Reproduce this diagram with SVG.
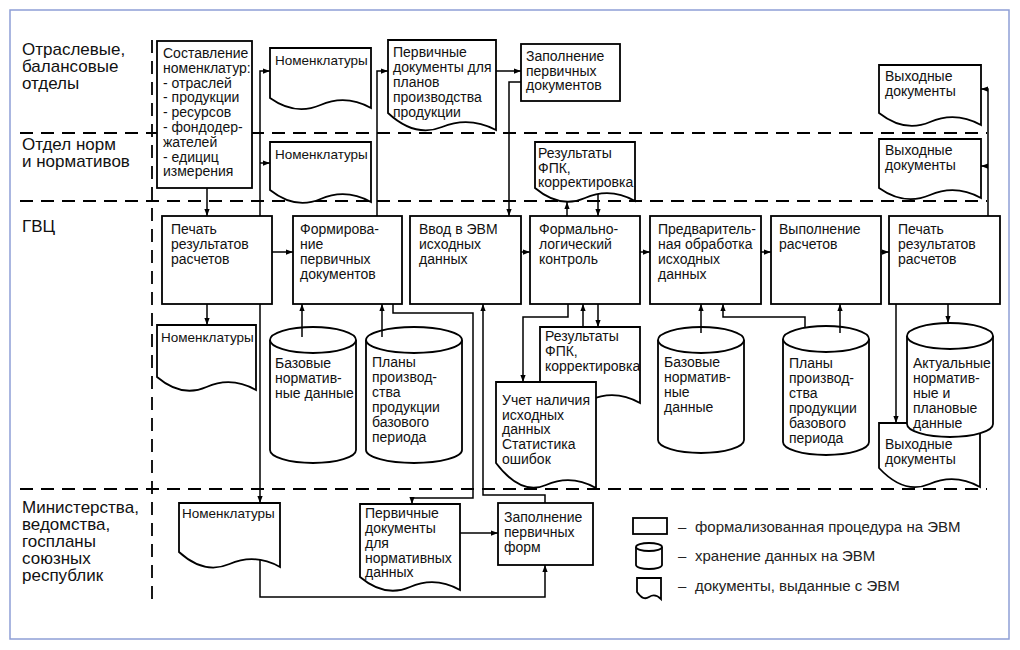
<svg xmlns="http://www.w3.org/2000/svg" width="1020" height="650" viewBox="0 0 1020 650">
<defs>
<style>
.box,.doc,.cyl{fill:#fff;stroke:#000;stroke-width:1.8}
.conn{fill:none;stroke:#000;stroke-width:1.5}
.arr{marker-end:url(#ah)}
.lane{fill:none;stroke:#000;stroke-width:1.8;stroke-dasharray:13 8}
text{font-family:"Liberation Sans",Arial,sans-serif;font-size:14px;fill:#111}
.lbl{font-size:17px}
.sm{font-size:13.5px}
.leg{font-size:15px;fill:#222}
</style>
<marker id="ah" viewBox="0 0 8 6" refX="8" refY="3" markerWidth="7" markerHeight="5.5" orient="auto" markerUnits="userSpaceOnUse"><path d="M0,0 L8,3 L0,6 Z" fill="#000"/></marker>
</defs>
<rect x="0" y="0" width="1020" height="650" fill="#fff"/>
<rect x="10" y="10" width="999" height="629" fill="none" stroke="#8e9fd6" stroke-width="1.5"/>

<g id="lanes">
<path class="lane" d="M20,133 H987 M20,201 H987 M20,489 H987 M152,40 V600"/>
<text class="lbl" x="22" y="55">Отраслевые,</text>
<text class="lbl" x="22" y="72">балансовые</text>
<text class="lbl" x="22" y="89">отделы</text>
<text class="lbl" x="22" y="150">Отдел норм</text>
<text class="lbl" x="22" y="167">и нормативов</text>
<text class="lbl" x="22" y="232">ГВЦ</text>
<text class="lbl" x="22" y="513">Министерства,</text>
<text class="lbl" x="22" y="530">ведомства,</text>
<text class="lbl" x="22" y="547">госпланы</text>
<text class="lbl" x="22" y="564">союзных</text>
<text class="lbl" x="22" y="581">республик</text>
</g>

<g id="sostavlenie">
<rect class="box" x="157" y="41" width="95" height="147"/>
<text x="163" y="58">Составление</text>
<text x="163" y="73">номенклатур:</text>
<text x="163" y="87.5">- отраслей</text>
<text x="163" y="102">- продукции</text>
<text x="163" y="117">- ресурсов</text>
<text x="163" y="132">- фондодер-</text>
<text x="163" y="147">жателей</text>
<text x="163" y="161.5">- едициц</text>
<text x="163" y="176">измерения</text>
</g>

<g id="nom1">
<path class="doc" d="M270,48 H371 V108 Q345.75,94 320.5,105 T270,98 Z"/>
<text class="sm" x="275" y="65">Номенклатуры</text>
</g>
<g id="nom2">
<path class="doc" d="M270,142 H371 V202 Q345.75,188 320.5,199 T270,190 Z"/>
<text class="sm" x="275" y="159">Номенклатуры</text>
</g>

<g id="perv-plan">
<path class="doc" d="M388,40 H496 V130 Q469,116 442,127 T388,113 Z"/>
<text x="393" y="57">Первичные</text>
<text x="393" y="72">документы для</text>
<text x="393" y="87">планов</text>
<text x="393" y="102">производства</text>
<text x="393" y="117">продукции</text>
</g>

<g id="zapoln-doc">
<rect class="box" x="521" y="44" width="99" height="57"/>
<text x="526" y="61">Заполнение</text>
<text x="526" y="76">первичных</text>
<text x="526" y="90">документов</text>
</g>

<g id="fpk1">
<path class="doc" d="M535,142 H635 V201 Q610,187 585,198 T535,188 Z"/>
<text x="538" y="158">Результаты</text>
<text x="538" y="173">ФПК,</text>
<text x="538" y="187">корректировка</text>
</g>

<g id="vyh1">
<path class="doc" d="M879,65 H981 V125 Q955.5,111 930,122 T879,113 Z"/>
<text x="885" y="81">Выходные</text>
<text x="885" y="96">документы</text>
</g>
<g id="vyh2">
<path class="doc" d="M879,139 H981 V198 Q955.5,184 930,195 T879,188 Z"/>
<text x="885" y="155">Выходные</text>
<text x="885" y="170">документы</text>
</g>

<g id="pechat1">
<rect class="box" x="162" y="216" width="110" height="88"/>
<text x="171" y="234">Печать</text>
<text x="171" y="249">результатов</text>
<text x="171" y="264">расчетов</text>
</g>
<g id="formir">
<rect class="box" x="293" y="216" width="109" height="88"/>
<text x="300" y="234">Формирова-</text>
<text x="300" y="249">ние</text>
<text x="300" y="264">первичных</text>
<text x="300" y="279">документов</text>
</g>
<g id="vvod">
<rect class="box" x="410" y="216" width="111" height="88"/>
<text x="419" y="234">Ввод в ЭВМ</text>
<text x="419" y="249">исходных</text>
<text x="419" y="264">данных</text>
</g>
<g id="formlog">
<rect class="box" x="530" y="216" width="110" height="88"/>
<text x="539" y="234">Формально-</text>
<text x="539" y="249">логический</text>
<text x="539" y="264">контроль</text>
</g>
<g id="predv">
<rect class="box" x="650" y="216" width="111" height="88"/>
<text x="658" y="234">Предваритель-</text>
<text x="658" y="249">ная обработка</text>
<text x="658" y="264">исходных</text>
<text x="658" y="279">данных</text>
</g>
<g id="vypoln">
<rect class="box" x="771" y="216" width="110" height="88"/>
<text x="779" y="234">Выполнение</text>
<text x="779" y="249">расчетов</text>
</g>
<g id="pechat2">
<rect class="box" x="889" y="216" width="111" height="88"/>
<text x="898" y="234">Печать</text>
<text x="898" y="249">результатов</text>
<text x="898" y="264">расчетов</text>
</g>

<g id="nom-gvc">
<path class="doc" d="M157,325 H256 V390 Q231.25,376 206.5,387 T157,377 Z"/>
<text class="sm" x="161" y="342">Номенклатуры</text>
</g>

<g id="baz1">
<path class="cyl" d="M270,340 V450 A43,13 0 0 0 356,450 V340"/>
<ellipse class="cyl" cx="313" cy="340" rx="43" ry="13"/>
<text x="275" y="368">Базовые</text>
<text x="275" y="383">норматив-</text>
<text x="275" y="398">ные данные</text>
</g>
<g id="plan1">
<path class="cyl" d="M366,340 V450 A48,13 0 0 0 462,450 V340"/>
<ellipse class="cyl" cx="414" cy="340" rx="48" ry="13"/>
<text x="372" y="367">Планы</text>
<text x="372" y="382">производ-</text>
<text x="372" y="397">ства</text>
<text x="372" y="412">продукции</text>
<text x="372" y="427">базового</text>
<text x="372" y="442">периода</text>
</g>

<g id="fpk2">
<path class="doc" d="M540,327 H640 V403 Q615,389 590,400 T540,386 Z"/>
<text x="545" y="341">Результаты</text>
<text x="545" y="356">ФПК,</text>
<text x="545" y="371">корректировка</text>
</g>
<g id="uchet">
<path class="doc" d="M496,382 H596 V488 Q571,474 546,485 T496,463 Z"/>
<text x="502" y="405">Учет наличия</text>
<text x="502" y="420">исходных</text>
<text x="502" y="434">данных</text>
<text x="502" y="449">Статистика</text>
<text x="502" y="464">ошибок</text>
</g>

<g id="baz2">
<path class="cyl" d="M658,340 V440 A43,13 0 0 0 744,440 V340"/>
<ellipse class="cyl" cx="701" cy="340" rx="43" ry="13"/>
<text x="664" y="367">Базовые</text>
<text x="664" y="382">норматив-</text>
<text x="664" y="397">ные</text>
<text x="664" y="412">данные</text>
</g>
<g id="plan2">
<path class="cyl" d="M783,339 V442 A43,13 0 0 0 869,442 V339"/>
<ellipse class="cyl" cx="826" cy="339" rx="43" ry="13"/>
<text x="789" y="368">Планы</text>
<text x="789" y="383">производ-</text>
<text x="789" y="398">ства</text>
<text x="789" y="413">продукции</text>
<text x="789" y="428">базового</text>
<text x="789" y="443">периода</text>
</g>

<g id="vyh3">
<path class="doc" d="M879,423 H980 V487 Q954.75,473 929.5,484 T879,468 Z"/>
<text x="885" y="449">Выходные</text>
<text x="885" y="464">документы</text>
</g>
<g id="aktual">
<path class="cyl" d="M907,336 V424 A43,13 0 0 0 993,424 V336"/>
<ellipse class="cyl" cx="950" cy="336" rx="43" ry="13"/>
<text x="913" y="368">Актуальные</text>
<text x="913" y="383">норматив-</text>
<text x="913" y="398">ные и</text>
<text x="913" y="413">плановые</text>
<text x="913" y="428">данные</text>
</g>

<g id="nom-bottom">
<path class="doc" d="M179,503 H280 V567 Q254.75,553 229.5,564 T179,552 Z"/>
<text class="sm" x="182" y="518">Номенклатуры</text>
</g>
<g id="perv-norm">
<path class="doc" d="M360,504 H460 V590 Q435,576 410,587 T360,577 Z"/>
<text x="365" y="518">Первичные</text>
<text x="365" y="533">документы</text>
<text x="365" y="548">для</text>
<text x="365" y="563">нормативных</text>
<text x="365" y="577">данных</text>
</g>
<g id="zapoln-form">
<rect class="box" x="498" y="503" width="95" height="62"/>
<text x="504" y="522">Заполнение</text>
<text x="504" y="537">первичных</text>
<text x="504" y="552">форм</text>
</g>

<g id="legend">
<rect class="box" x="633" y="518" width="34" height="16"/>
<path class="cyl" d="M636,547 V565 A13,4 0 0 0 662,565 V547"/>
<ellipse class="cyl" cx="649" cy="547" rx="13" ry="4"/>
<path class="doc" d="M637,578 H661 V599 Q655,593 649,597 T637,592 Z"/>
<text class="leg" x="678" y="532">–</text>
<text class="leg" x="695" y="532">формализованная процедура на ЭВМ</text>
<text class="leg" x="678" y="561">–</text>
<text class="leg" x="695" y="561">хранение данных на ЭВМ</text>
<text class="leg" x="678" y="591">–</text>
<text class="leg" x="695" y="591">документы, выданные с ЭВМ</text>
</g>

<g id="connectors">
<path class="conn arr" d="M207,188 V216"/>
<path class="conn arr" d="M260,216 V71 H270"/>
<path class="conn arr" d="M260,163 H270"/>
<path class="conn arr" d="M260,304 V503"/>
<path class="conn arr" d="M207,304 V325"/>
<path class="conn arr" d="M272,252 H293"/>
<path class="conn arr" d="M377,216 V71 H388"/>
<path class="conn arr" d="M496,71 H521"/>
<path class="conn arr" d="M521,82 H509 V216"/>
<path class="conn arr" d="M521,252 H530"/>
<path class="conn arr" d="M567,216 V202"/>
<path class="conn arr" d="M598,194 V216"/>
<path class="conn arr" d="M640,252 H650"/>
<path class="conn arr" d="M761,252 H771"/>
<path class="conn arr" d="M881,252 H889"/>
<path class="conn arr" d="M988,216 V89 H981"/>
<path class="conn arr" d="M988,166 H981"/>
<path class="conn arr" d="M896,304 V423"/>
<path class="conn arr" d="M948,304 V323"/>
<path class="conn arr" d="M568,304 V317 H523 V382"/>
<path class="conn arr" d="M583,327 V304"/>
<path class="conn arr" d="M598,304 V327"/>
<path class="conn arr" d="M302,337 V304"/>
<path class="conn arr" d="M382,337 V304"/>
<path class="conn arr" d="M393,304 V313 H473 V498 H412 V504"/>
<path class="conn arr" d="M545,503 V495 H483 V304"/>
<path class="conn arr" d="M701,333 V304"/>
<path class="conn arr" d="M840,333 V304"/>
<path class="conn arr" d="M805,328 V317 H723 V304"/>
<path class="conn arr" d="M260,560 V597 H545 V565"/>
<path class="conn arr" d="M460,533 H498"/>
</g>
</svg>
